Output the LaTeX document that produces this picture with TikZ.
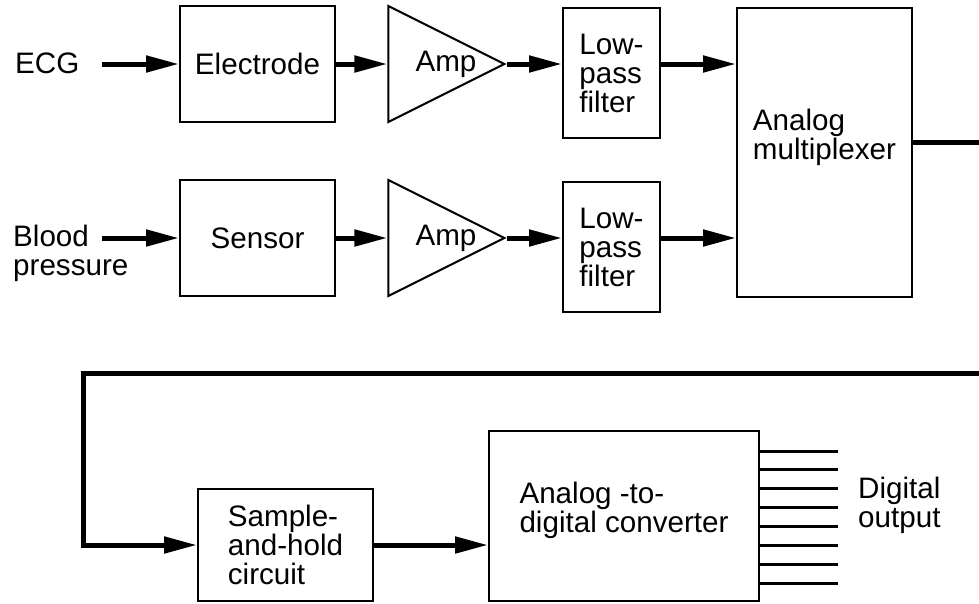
\documentclass[tikz,border=0pt]{standalone}
\usepackage{fontspec}
\setmainfont{Liberation Sans}
\usetikzlibrary{arrows.meta,shapes.geometric}

\tikzset{
  blk/.style={draw,line width=2pt,rectangle,inner sep=0pt,align=center},
  lpf/.style={blk,minimum width=97pt,minimum height=130pt,align=left},
  amp/.style={draw,line width=2pt,isosceles triangle,isosceles triangle stretches,
    minimum width=116pt,minimum height=116pt,inner sep=0pt,anchor=apex},
  sig/.style={line width=5pt,-{Triangle[length=33pt,width=16pt]}},
  bus/.style={line width=5pt},
  bit/.style={line width=3pt},
  lbl/.style={inner sep=0pt,align=left}
}

\begin{document}
\begin{tikzpicture}[x=1pt,y=-1pt,font=\fontsize{29.6}{29}\selectfont]
\useasboundingbox (0,0) rectangle (979,603);

\node[lbl,anchor=west] (ecg) at (15,63) {ECG};
\node[blk,minimum width=155pt,minimum height=116pt] (electrode) at (257.5,64) {Electrode};
\node[amp] (amp1) at (507,64) {};
\node[lbl,anchor=west] (amp1txt) at ([xshift=28pt]amp1.west) {Amp};
\node[lpf] (lpf1) at (611.5,73) {Low-\\pass\\filter};
\node[blk,minimum width=175pt,minimum height=289pt,align=left,text depth=36pt] (mux) at (824.5,152.5) {Analog\\multiplexer};

\node[lbl,anchor=north west] (bp) at (13,225) {Blood\\pressure};
\node[blk,minimum width=155pt,minimum height=116pt] (sensor) at (257.5,238) {Sensor};
\node[amp] (amp2) at (507,238) {};
\node[lbl,anchor=west] (amp2txt) at ([xshift=28pt]amp2.west) {Amp};
\node[lpf] (lpf2) at (611.5,247) {Low-\\pass\\filter};

\node[blk,minimum width=175pt,minimum height=112pt,align=left] (sah) at (285.5,545) {Sample-\\and-hold\\circuit};
\node[blk,minimum width=270pt,minimum height=170pt,align=left,text depth=18pt] (adc) at (624,516) {Analog -to-\\digital converter};
\node[lbl,anchor=north west] (dout) at (858,477) {Digital\\output};

\coordinate (ecgin) at (102,64);
\coordinate (bpin) at (102,238);
\coordinate (muxout) at (979,142);
\coordinate (fbin) at (979,373);
\coordinate (fbcorner) at (83,373);

\draw[sig] (ecgin) -- (electrode.west |- ecgin);
\draw[sig] (electrode.east |- amp1.apex) -- (amp1.west);
\draw[sig] (amp1.apex) -- (lpf1.west |- amp1.apex);
\draw[sig] (lpf1.east |- amp1.apex) -- (mux.west |- amp1.apex);

\draw[sig] (bpin) -- (sensor.west |- bpin);
\draw[sig] (sensor.east |- amp2.apex) -- (amp2.west);
\draw[sig] (amp2.apex) -- (lpf2.west |- amp2.apex);
\draw[sig] (lpf2.east |- amp2.apex) -- (mux.west |- amp2.apex);

\draw[bus] (mux.east |- muxout) -- (muxout);
\draw[sig] (fbin) -- (fbcorner) |- (sah.west);
\draw[sig] (sah.east) -- (adc.west |- sah.east);
\foreach \i in {0,...,7}
  \draw[bit] ([yshift={-(21+18.9*\i)*1pt}]adc.north east) -- ++(78,0);
\end{tikzpicture}
\end{document}
